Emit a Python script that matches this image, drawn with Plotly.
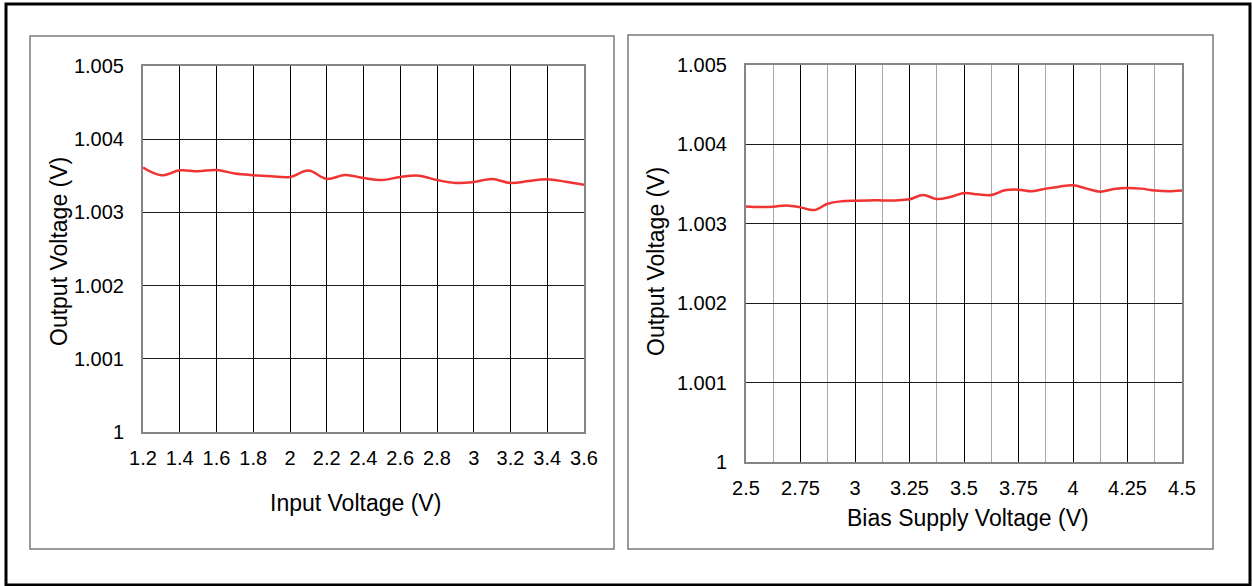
import plotly.graph_objects as go

# ---------------- data ----------------
left_x = [1.2, 1.3, 1.4, 1.5, 1.6, 1.7, 1.8, 1.9, 2.0, 2.1, 2.2, 2.3, 2.4,
          2.5, 2.6, 2.7, 2.8, 2.9, 3.0, 3.1, 3.2, 3.3, 3.4, 3.5, 3.6]
left_y = [1.003612, 1.003507, 1.003575, 1.003562, 1.003580, 1.003530, 1.003507,
          1.003493, 1.003484, 1.003571, 1.003457, 1.003511, 1.003470, 1.003443,
          1.003484, 1.003502, 1.003443, 1.003402, 1.003416, 1.003457, 1.003402,
          1.003429, 1.003452, 1.003420, 1.003379]

right_x = [2.5, 2.5625, 2.625, 2.6875, 2.75, 2.8125, 2.875, 2.9375, 3.0, 3.0625,
           3.125, 3.1875, 3.25, 3.3125, 3.375, 3.4375, 3.5, 3.5625, 3.625, 3.6875,
           3.75, 3.8125, 3.875, 3.9375, 4.0, 4.0625, 4.125, 4.1875, 4.25, 4.3125,
           4.375, 4.4375, 4.5]
right_y = [1.003219, 1.003211, 1.003215, 1.003232, 1.003207, 1.003173, 1.003253,
           1.003283, 1.003291, 1.003295, 1.003295, 1.003295, 1.003308, 1.003363,
           1.003312, 1.003338, 1.003388, 1.003371, 1.003363, 1.003422, 1.003430,
           1.003409, 1.003443, 1.003468, 1.003485, 1.003443, 1.003405, 1.003439,
           1.003452, 1.003443, 1.003418, 1.003409, 1.003418]

left_xticks = [1.2, 1.4, 1.6, 1.8, 2.0, 2.2, 2.4, 2.6, 2.8, 3.0, 3.2, 3.4, 3.6]
left_xlabels = ["1.2", "1.4", "1.6", "1.8", "2", "2.2", "2.4", "2.6", "2.8", "3", "3.2", "3.4", "3.6"]
right_xticks = [2.5, 2.75, 3.0, 3.25, 3.5, 3.75, 4.0, 4.25, 4.5]
right_xlabels = ["2.5", "2.75", "3", "3.25", "3.5", "3.75", "4", "4.25", "4.5"]
right_xminor = [2.625, 2.875, 3.125, 3.375, 3.625, 3.875, 4.125, 4.375]
yticks = [1.0, 1.001, 1.002, 1.003, 1.004, 1.005]
ylabels = ["1", "1.001", "1.002", "1.003", "1.004", "1.005"]

W, H = 1252, 586
def px(x):
    return x / W
def py(y):
    return 1 - y / H

FONT = "Liberation Sans, Arial, sans-serif"
RED = "#f03434"

fig = go.Figure()
fig.add_trace(go.Scatter(x=left_x, y=left_y, mode="lines",
                         line=dict(color=RED, width=2.5, shape="spline", smoothing=1.0),
                         xaxis="x", yaxis="y", showlegend=False, hoverinfo="skip"))
fig.add_trace(go.Scatter(x=right_x, y=right_y, mode="lines",
                         line=dict(color=RED, width=2.5, shape="spline", smoothing=1.0),
                         xaxis="x2", yaxis="y2", showlegend=False, hoverinfo="skip"))

tickfont = dict(family=FONT, size=20, color="#000000")
common_x = dict(showline=True, mirror=True, linecolor="#858585", linewidth=2,
                ticks="", tickfont=tickfont, ticklabelstandoff=7, automargin=False,
                zeroline=False, showgrid=True, gridcolor="#000000", gridwidth=1,
                tickmode="array", fixedrange=True)
common_y = dict(showline=True, mirror=True, linecolor="#858585", linewidth=2,
                ticks="", tickfont=tickfont, ticklabelstandoff=13, automargin=False,
                zeroline=False, showgrid=True, gridcolor="#1a1a1a", gridwidth=1,
                tickmode="array", tickvals=yticks, ticktext=ylabels,
                range=[1.0, 1.005], fixedrange=True)

fig.update_layout(
    width=W, height=H,
    margin=dict(l=0, r=0, t=0, b=0, pad=0, autoexpand=False),
    paper_bgcolor="white", plot_bgcolor="white",
    xaxis=dict(domain=[px(143), px(584)], anchor="y", range=[1.2, 3.6],
               tickvals=left_xticks, ticktext=left_xlabels, **common_x),
    yaxis=dict(domain=[py(432), py(66)], anchor="x", **common_y),
    xaxis2=dict(domain=[px(746), px(1182)], anchor="y2", range=[2.5, 4.5],
                tickvals=right_xticks, ticktext=right_xlabels,
                minor=dict(tickmode="array", tickvals=right_xminor, showgrid=True,
                           gridcolor="#a8a8a8", gridwidth=1, ticks=""),
                **common_x),
    yaxis2=dict(domain=[py(462), py(65)], anchor="x2", **common_y),
    showlegend=False,
)

shapes = [
    dict(type="rect", xref="paper", yref="paper", x0=px(6), x1=px(1250), y0=py(585), y1=py(4),
         line=dict(color="#000000", width=3)),
    dict(type="rect", xref="paper", yref="paper", x0=px(30), x1=px(614), y0=py(549), y1=py(36),
         line=dict(color="#7a7a7a", width=1.5)),
    dict(type="rect", xref="paper", yref="paper", x0=px(628), x1=px(1213), y0=py(549), y1=py(35),
         line=dict(color="#7a7a7a", width=1.5)),
]
fig.update_layout(shapes=shapes)

titlefont = dict(family=FONT, size=23, color="#000000")
annos = [
    dict(text="Output Voltage (V)", x=px(59), y=py(252), textangle=-90),
    dict(text="Output Voltage (V)", x=px(656), y=py(262), textangle=-90),
    dict(text="Input Voltage (V)", x=px(355), y=py(503)),
    dict(text="Bias Supply Voltage (V)", x=px(968), y=py(518)),
]
for a in annos:
    fig.add_annotation(xref="paper", yref="paper", showarrow=False,
                       xanchor="center", yanchor="middle", font=titlefont, **a)

fig.write_html("out.html", config={"displayModeBar": False},
               post_script="document.body.style.margin='0';")
